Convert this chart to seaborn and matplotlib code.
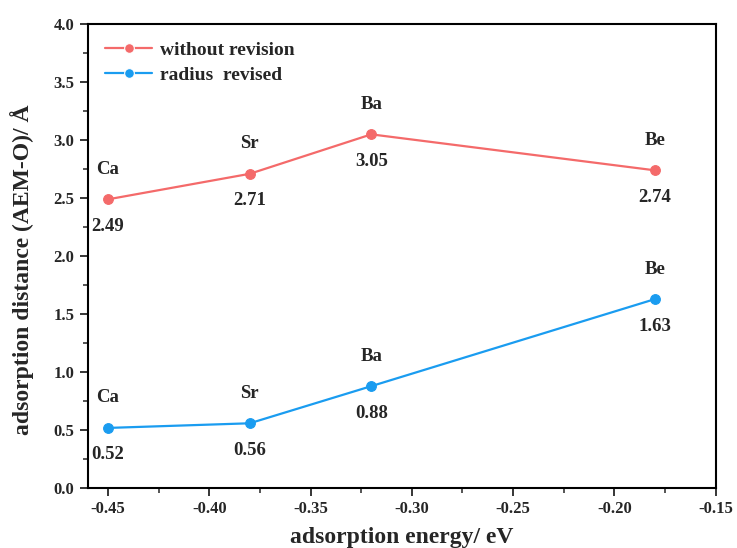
import numpy as np
import pandas as pd
import matplotlib
matplotlib.use("Agg")
import matplotlib.pyplot as plt
import seaborn as sns
from matplotlib.ticker import MultipleLocator, AutoMinorLocator

elements = ["Ca", "Sr", "Ba", "Be"]
energy = [-0.45, -0.38, -0.32, -0.18]
without_revision = [2.49, 2.71, 3.05, 2.74]
radius_revised = [0.52, 0.56, 0.88, 1.63]
series_names = ["without revision", "radius  revised"]
colors = ["#F46A6A", "#1A9CF0"]

sns.set_theme(style="ticks")
plt.rcParams['font.family'] = ['Liberation Serif', 'DejaVu Serif']
plt.rcParams['font.weight'] = 'bold'

df = pd.DataFrame({
    "energy": energy * 2,
    "distance": without_revision + radius_revised,
    "series": [series_names[0]] * 4 + [series_names[1]] * 4,
    "element": elements * 2,
})

fig = plt.figure(figsize=(7.37, 5.48), dpi=100)
ax = fig.add_axes([0.119, 0.109, 0.852, 0.847])

sns.lineplot(data=df, x="energy", y="distance", hue="series",
             palette=dict(zip(series_names, colors)), marker="o",
             markersize=7, markeredgewidth=0.8, linewidth=1.6, ax=ax)
for line, c in zip(ax.get_lines(), colors):
    line.set_markeredgecolor(c)

for vals in (without_revision, radius_revised):
    for x, y, el in zip(energy, vals, elements):
        ax.annotate(el, (x, y), xytext=(0, 30), textcoords="offset pixels",
                    ha="center", va="center", fontsize=13.5, fontweight="bold")
        ax.annotate(f"{y:.2f}", (x, y), xytext=(0, -27), textcoords="offset pixels",
                    ha="center", va="center", fontsize=13.5, fontweight="bold")

ax.set_xlim(-0.46, -0.15)
ax.set_ylim(0, 4.0)
ax.xaxis.set_minor_locator(AutoMinorLocator(2))
ax.yaxis.set_major_locator(MultipleLocator(0.5))
ax.yaxis.set_minor_locator(AutoMinorLocator(2))
ax.set_xticks(np.arange(-0.45, -0.149, 0.05))
ax.xaxis.set_major_formatter(matplotlib.ticker.FormatStrFormatter("%.2f"))
ax.yaxis.set_major_formatter(matplotlib.ticker.FormatStrFormatter("%.1f"))
ax.tick_params(which="major", direction="out", length=6, width=1.3, labelsize=12)
ax.tick_params(which="minor", direction="out", length=3.5, width=1.1)
for lab in ax.get_xticklabels() + ax.get_yticklabels():
    lab.set_fontweight("bold")
for s in ax.spines.values():
    s.set_linewidth(1.5)
    s.set_color("black")

ax.set_xlabel("adsorption energy/ eV", fontsize=17, fontweight="bold", labelpad=7)
ax.set_ylabel("adsorption distance (AEM-O)/ Å", fontsize=17, fontweight="bold")
ax.yaxis.set_label_coords(-0.086, 0.47)

leg = ax.legend(loc="upper left", frameon=False, fontsize=14, handlelength=2.4,
                handletextpad=0.4, labelspacing=0.35,
                bbox_to_anchor=(0.0, 1.0), borderaxespad=0.5)
for t in leg.get_texts():
    t.set_fontweight("bold")

fig.savefig("out.png", dpi=100)
